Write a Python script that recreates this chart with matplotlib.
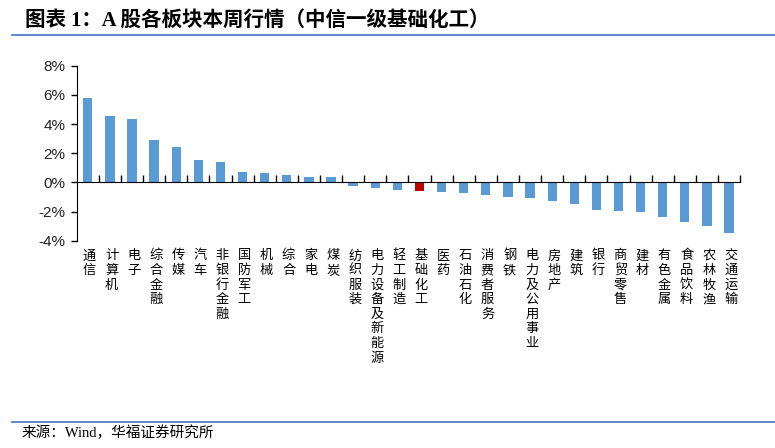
import matplotlib
matplotlib.use("Agg")
import matplotlib.pyplot as plt
from matplotlib.ticker import FuncFormatter

# 行业与本周涨跌幅（%）
industries = ["通信", "计算机", "电子", "综合金融", "传媒", "汽车", "非银行金融", "国防军工",
              "机械", "综合", "家电", "煤炭", "纺织服装", "电力设备及新能源", "轻工制造",
              "基础化工", "医药", "石油石化", "消费者服务", "钢铁", "电力及公用事业", "房地产",
              "建筑", "银行", "商贸零售", "建材", "有色金属", "食品饮料", "农林牧渔", "交通运输"]
weekly_change = [5.76, 4.57, 4.34, 2.88, 2.42, 1.55, 1.41, 0.71, 0.66, 0.48, 0.36, 0.36,
                 -0.27, -0.39, -0.53, -0.60, -0.66, -0.73, -0.87, -0.99, -1.05, -1.28,
                 -1.49, -1.88, -1.95, -2.06, -2.38, -2.74, -2.99, -3.45]
highlight = "基础化工"
y_ticks = [-4, -2, 0, 2, 4, 6, 8]

BLUE = "#5B9BD5"
RED = "#C00000"
LINE_BLUE = "#4472C4"
cjk = ["Noto Sans CJK SC", "DejaVu Sans"]
serif = ["Liberation Serif", "Noto Sans CJK SC"]

fig = plt.figure(figsize=(7.75, 4.48), dpi=100)
ax = fig.add_axes([0.099, 0.4627, 0.856, 0.3906])

x = list(range(len(industries)))
colors = [RED if name == highlight else BLUE for name in industries]
ax.bar(x, weekly_change, width=0.42, color=colors, zorder=2)

ax.set_xlim(-0.5, len(industries) - 0.5)
ax.set_ylim(-4, 8)
ax.set_yticks(y_ticks)
ax.yaxis.set_major_formatter(FuncFormatter(lambda v, p: "%d%%" % v))
ax.tick_params(axis="y", direction="out", length=4, width=1, labelsize=11,
               labelcolor="#222222", pad=4)
for lab in ax.get_yticklabels():
    lab.set_family("Liberation Sans")

# x 轴放在 0 处，刻度线朝上
ax.spines["bottom"].set_position(("data", 0))
ax.spines["top"].set_visible(False)
ax.spines["right"].set_visible(False)
ax.set_xticks([i + 0.5 for i in x])
ax.set_xticklabels([])
ax.tick_params(axis="x", direction="in", length=5, width=1)

# 竖排类目标签
for i, name in zip(x, industries):
    ax.text(i + 0.08, -4.6, "\n".join(name), ha="center", va="top", fontsize=9.5,
            family=cjk, linespacing=1.16, transform=ax.transData, clip_on=False)

# 标题和来源
fig.text(0.032, 0.953, "图表 1：A 股各板块本周行情（中信一级基础化工）", fontsize=14.8,
         fontweight="bold", family=serif, va="center", ha="left")
fig.add_artist(plt.Line2D([0.015, 1.0], [0.921, 0.921], color=LINE_BLUE, lw=1.2))
fig.add_artist(plt.Line2D([0.015, 1.0], [0.058, 0.058], color=LINE_BLUE, lw=1.2))
fig.text(0.028, 0.033, "来源：Wind，华福证券研究所", fontsize=10.5, family=serif,
         va="center", ha="left")

fig.savefig("out.png", dpi=100)
